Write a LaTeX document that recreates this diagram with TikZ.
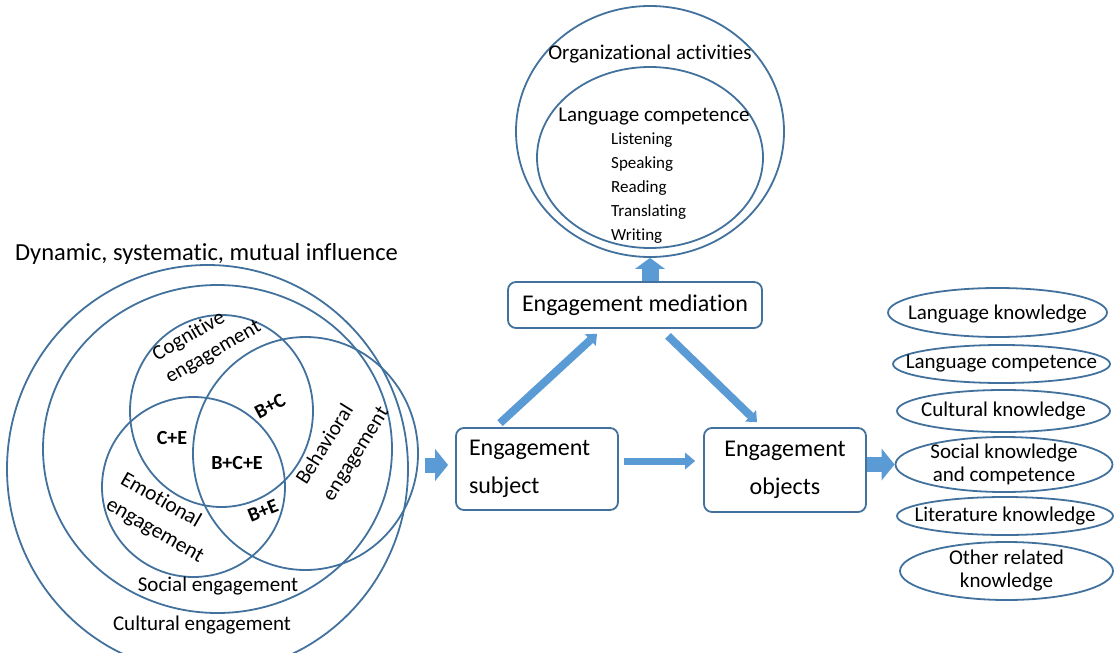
\documentclass[tikz,border=0pt]{standalone}
\usepackage{fontspec}
\setmainfont{Carlito}[Ligatures={NoCommon}]
\usepackage{tikz}
\usetikzlibrary{positioning}
\usetikzlibrary{shapes.geometric, arrows.meta}

\definecolor{ringblue}{HTML}{41719C}
\definecolor{arrowblue}{HTML}{5B9BD5}

\tikzset{
ring/.style={ellipse,draw=ringblue,line width=1.8pt,inner sep=0pt},
engbox/.style={rectangle,rounded corners=8pt,draw=ringblue,line width=1.8pt,inner sep=0pt,font=\fontsize{24}{38}\selectfont},
lbl/.style={inner sep=0pt,font=\fontsize{21}{28}\selectfont},
pair/.style={inner sep=0pt,font=\fontsize{20}{24}\selectfont\bfseries},
blockarr/.style={arrowblue,line width=15pt,-{Triangle[length=13pt,width=32pt,line width=0pt]}},
thinarr/.style={arrowblue,line width=7pt,-{Triangle[length=10pt,width=17pt,line width=0pt]}},
diagarr/.style={arrowblue,line width=8pt,-{Triangle[length=9pt,width=16pt,line width=0pt]}},
uparr/.style={arrowblue,line width=17pt,-{Triangle[length=11pt,width=30pt,line width=0pt]}}
}

\begin{document}
\begin{tikzpicture}[x=1pt,y=-1pt]
\useasboundingbox (0,0) rectangle (1114,653);

\node[ring,minimum width=401pt,minimum height=408pt] (cultural) at (207.5,469) {};
\node[ring,minimum width=349pt,minimum height=328pt] (social) at (217.5,449) {};
\node[ring,minimum width=183pt,minimum height=192pt] (cogn) at (221.5,411) {};
\node[ring,minimum width=183pt,minimum height=180pt] (emot) at (193.5,487) {};
\node[ring,minimum width=225pt,minimum height=233pt] (behav) at (305.5,453.5) {};

\node[lbl,font=\fontsize{24.5}{28}\selectfont] (title) at (206.5,254) {Dynamic, systematic, mutual influence};
\node[lbl,rotate=30,align=left,font=\fontsize{21}{26}\selectfont] (cognlbl) at (207,341) {Cognitive\\engagement};
\node[lbl,rotate=-30,align=left,font=\fontsize{21.5}{29}\selectfont] (emotlbl) at (162,518) {Emotional\\engagement};
\node[lbl,rotate=58,align=left,font=\fontsize{21}{31}\selectfont] (behavlbl) at (343,446) {Behavioral\\engagement};
\node[lbl] (sociallbl) at (218,586) {Social engagement};
\node[lbl] (culturallbl) at (202,625) {Cultural engagement};
\node[pair,rotate=28] (bc) at (270,406) {B+C};
\node[pair] (ce) at (172,438) {C+E};
\node[pair] (bce) at (237,463) {B+C+E};
\node[pair,rotate=22] (be) at (263,511) {B+E};

\node[ring,minimum width=268pt,minimum height=251pt] (org) at (650,131.5) {};
\node[ring,minimum width=226pt,minimum height=181pt] (lang) at (650,157.5) {};
\node[lbl] (orglbl) at (650,54) {Organizational activities};
\node[lbl] (langlbl) at (654,117) {Language competence};
\node[lbl,font=\fontsize{17}{24}\selectfont,align=left,anchor=west] (skills) at (611,188) {Listening\\Speaking\\Reading\\Translating\\Writing};

\node[engbox,minimum width=254pt,minimum height=46pt] (med) at (635,305) {Engagement mediation};
\node[engbox,minimum width=162pt,minimum height=82pt,text width=136pt,align=left] (subj) at (537,469) {Engagement\\subject};
\node[engbox,minimum width=162pt,minimum height=84pt,align=center] (obj) at (785,470) {Engagement\\objects};

\node[ring,minimum width=219pt,minimum height=49pt] (know1) at (997.5,312.5) {};
\node[ring,minimum width=217pt,minimum height=38pt] (know2) at (1001.5,364) {};
\node[ring,minimum width=213pt,minimum height=42pt] (know3) at (1003.5,411) {};
\node[ring,minimum width=217pt,minimum height=55pt] (know4) at (1004,464.5) {};
\node[ring,minimum width=216pt,minimum height=38pt] (know5) at (1005,516) {};
\node[ring,minimum width=213pt,minimum height=58pt] (know6) at (1006.5,571) {};
\node[lbl] at ([yshift=-2pt]know1) {Language knowledge};
\node[lbl] at (know2) {Language competence};
\node[lbl] at (know3) {Cultural knowledge};
\node[lbl,font=\fontsize{21}{23}\selectfont,align=center] at (know4) {Social knowledge\\and competence};
\node[lbl] at (know5) {Literature knowledge};
\node[lbl,font=\fontsize{21}{23}\selectfont,align=center] at (know6) {Other related\\knowledge};

\coordinate (vennout) at (425,465);
\draw[blockarr] (vennout) -- (vennout -| subj.west) [shorten >=7pt];
\draw[blockarr] (obj.east |- know4.west) -- (know4.west);
\draw[thinarr] ([xshift=5pt,yshift=8pt]subj.east) -- ([xshift=-8pt,yshift=9pt]obj.west);
\draw[diagarr] ([xshift=-37pt,yshift=4pt]subj.north) -- ([xshift=-38pt,yshift=-5pt]med.south);
\draw[diagarr] ([xshift=33pt,yshift=-7pt]med.south) -- ([xshift=-28pt,yshift=5pt]obj.north);
\draw[uparr] (med.north -| org.south) -- (org.south);

\end{tikzpicture}
\end{document}
